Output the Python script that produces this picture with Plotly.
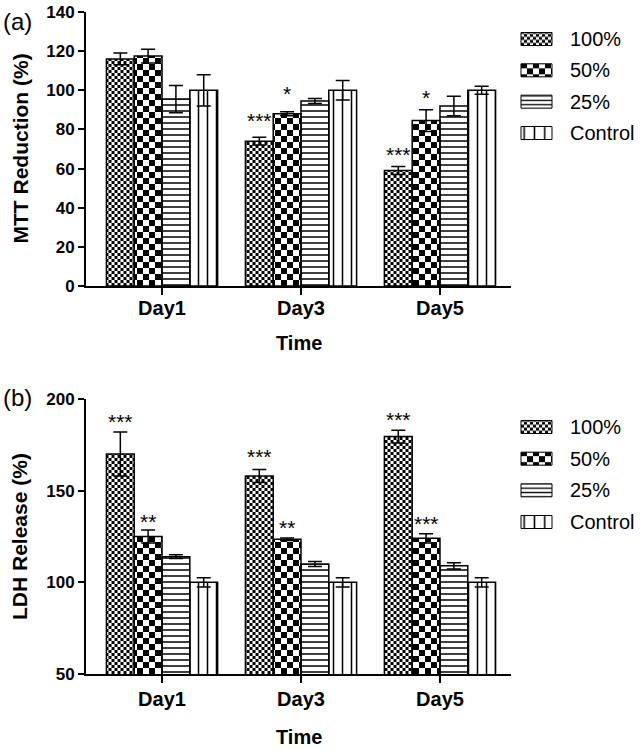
import plotly.graph_objects as go

# ---------------- data ----------------
days = ["Day1", "Day3", "Day5"]
series = ["100%", "50%", "25%", "Control"]

# (a) MTT reduction (%)
mtt_100 = [116, 74, 59]
mtt_100_err = [3, 2, 2]
mtt_50 = [117.5, 88, 84.5]
mtt_50_err = [3.5, 1, 5.5]
mtt_25 = [95.5, 94.5, 92]
mtt_25_err = [7, 1.3, 5]
mtt_ctrl = [100, 100, 100]
mtt_ctrl_err = [8, 5, 2]

mtt_sig_day = ["Day3", "Day3", "Day5", "Day5"]
mtt_sig_series = ["100%", "50%", "100%", "50%"]
mtt_sig_text = ["***", "*", "***", "*"]
mtt_sig_y = [87, 101, 70, 99]

# (b) LDH release (%)
ldh_100 = [170, 158, 179.5]
ldh_100_err = [12, 3.5, 3.5]
ldh_50 = [125, 123.5, 124]
ldh_50_err = [3.5, 0.7, 2.5]
ldh_25 = [114, 110, 109]
ldh_25_err = [1, 1.3, 1.7]
ldh_ctrl = [100, 100, 100]
ldh_ctrl_err = [2.5, 2.5, 2.5]

ldh_sig_day = ["Day1", "Day1", "Day3", "Day3", "Day5", "Day5"]
ldh_sig_series = ["100%", "50%", "100%", "50%", "100%", "50%"]
ldh_sig_text = ["***", "**", "***", "**", "***", "***"]
ldh_sig_y = [190.5, 135.7, 171.4, 132.8, 191.8, 134.6]

mtt_yticks = [0, 20, 40, 60, 80, 100, 120, 140]
ldh_yticks = [50, 100, 150, 200]

# ---------------- layout constants (pixels) ----------------
W, H = 641, 750
FONT = "Liberation Sans, Arial, Helvetica, sans-serif"
PL, PR = 86, 511
A_T, A_B = 12, 286
B_T, B_B = 399, 674
X_RANGE = [-0.547, 2.511]
A_RANGE = [0, 140]
B_RANGE = [50, 200]
BAR_W = 0.2
OFFSETS = [-0.4, -0.2, 0.0, 0.2]

# legend swatch geometry
SW_L, SW_R = 521, 552
A_LEG_ROWS = (39, 133)
B_LEG_ROWS = (427, 522)
SW_H = 13

STYLES = [
    dict(kind="checker", tile=6),
    dict(kind="checker", tile=12),
    dict(kind="lines", shape="-", size=6, solidity=0.25, lsize=4.4, lsol=0.3),
    dict(kind="lines", shape="|", size=9, solidity=0.17, lsize=10.3, lsol=0.15),
]


def py(p):
    return 1 - p / H


def px(p):
    return p / W


fig = go.Figure()


def pat(shape, size, sol, fg, bg):
    return dict(shape=shape, size=size, solidity=sol, fgcolor=fg, bgcolor=bg,
                fillmode="replace")


def add_panel(xa, ya, vals_list, errs_list, floor, ppu):
    fills, outlines = [], []
    for j, (name, vals, errs, st) in enumerate(zip(series, vals_list, errs_list, STYLES)):
        off = OFFSETS[j]
        common = dict(offset=off, width=BAR_W, xaxis=xa, yaxis=ya,
                      showlegend=False, hoverinfo="skip")
        if st["kind"] == "checker":
            tile = st["tile"]
            fills.append(go.Bar(x=days, y=vals, name=name,
                                marker=dict(color="white", line=dict(width=0),
                                            pattern=pat("|", tile, 0.5, "black", "white")),
                                **common))
            seg = (tile / 2) / ppu
            sx, sb, sy = [], [], []
            for d, v in zip(days, vals):
                b = floor + seg
                while b < v - 1e-9:
                    sx.append(d)
                    sb.append(b)
                    sy.append(min(seg, v - b))
                    b += 2 * seg
            fills.append(go.Bar(x=sx, y=sy, base=sb, name=name,
                                marker=dict(color="black", line=dict(width=0),
                                            pattern=pat("|", tile, 0.5, "white", "black")),
                                **common))
        else:
            fills.append(go.Bar(x=days, y=vals, name=name,
                                marker=dict(color="white", line=dict(width=0),
                                            pattern=pat(st["shape"], st["size"], st["solidity"],
                                                        "black", "white")),
                                **common))
        outlines.append(go.Bar(x=days, y=vals, name=name,
                               marker=dict(color="rgba(0,0,0,0)",
                                           line=dict(color="black", width=1.5)),
                               error_y=dict(type="data", array=errs, visible=True,
                                            color="black", thickness=1.5, width=7),
                               **common))
    for t in fills + outlines:
        fig.add_trace(t)


def add_legend(xa, ya, sw_h_units):
    sw_px = SW_R - SW_L
    fills = []
    for k, (name, st) in enumerate(zip(series, STYLES)):
        common = dict(orientation="h", width=sw_h_units, xaxis=xa, yaxis=ya,
                      showlegend=False, hoverinfo="skip")
        if st["kind"] == "checker":
            tile = st["tile"]
            fills.append(go.Bar(y=[name], x=[1], base=[0],
                                marker=dict(color="white", line=dict(width=0),
                                            pattern=pat("-", tile, 0.5, "black", "white")),
                                **common))
            seg = (tile / 2) / sw_px
            sx, sb, sy = [], [], []
            b = seg
            while b < 1 - 1e-9:
                sy.append(name)
                sb.append(b)
                sx.append(min(seg, 1 - b))
                b += 2 * seg
            fills.append(go.Bar(y=sy, x=sx, base=sb,
                                marker=dict(color="black", line=dict(width=0),
                                            pattern=pat("-", tile, 0.5, "white", "black")),
                                **common))
        else:
            fills.append(go.Bar(y=[name], x=[1], base=[0],
                                marker=dict(color="white", line=dict(width=0),
                                            pattern=pat(st["shape"], st["lsize"], st["lsol"],
                                                        "black", "white")),
                                **common))
    outline = go.Bar(y=series, x=[1] * len(series), base=[0] * len(series),
                     orientation="h", width=sw_h_units, xaxis=xa, yaxis=ya,
                     showlegend=False, hoverinfo="skip",
                     marker=dict(color="rgba(0,0,0,0)",
                                 line=dict(color="black", width=1)))
    for t in fills + [outline]:
        fig.add_trace(t)


ppu_a = (A_B - A_T) / (A_RANGE[1] - A_RANGE[0])
ppu_b = (B_B - B_T) / (B_RANGE[1] - B_RANGE[0])

add_panel("x", "y", [mtt_100, mtt_50, mtt_25, mtt_ctrl],
          [mtt_100_err, mtt_50_err, mtt_25_err, mtt_ctrl_err], A_RANGE[0], ppu_a)
add_panel("x2", "y2", [ldh_100, ldh_50, ldh_25, ldh_ctrl],
          [ldh_100_err, ldh_50_err, ldh_25_err, ldh_ctrl_err], B_RANGE[0], ppu_b)

A_ROW_SP = (A_LEG_ROWS[1] - A_LEG_ROWS[0]) / 3
B_ROW_SP = (B_LEG_ROWS[1] - B_LEG_ROWS[0]) / 3
add_legend("x3", "y3", SW_H / A_ROW_SP)
add_legend("x4", "y4", SW_H / B_ROW_SP)

# ---------------- axes ----------------
xcommon = dict(type="category", categoryorder="array", categoryarray=days,
               range=X_RANGE, showline=True, linewidth=2, linecolor="black",
               ticks="outside", ticklen=7, tickwidth=2, tickcolor="black",
               tickfont=dict(size=20, family=FONT, color="black", weight="bold"),
               showgrid=False, zeroline=False, fixedrange=True, automargin=False,
               domain=[px(PL), px(PR)])
ycommon = dict(showline=True, linewidth=2, linecolor="black",
               ticks="outside", ticklen=6, tickwidth=2, tickcolor="black",
               tickfont=dict(size=17, family=FONT, color="black", weight="bold"),
               showgrid=False, zeroline=False, fixedrange=True, automargin=False)

sw_ppx = SW_R - SW_L
legx = dict(range=[-2 / sw_ppx, 1 + 2 / sw_ppx], visible=False, fixedrange=True,
            automargin=False, domain=[px(SW_L - 2), px(SW_R + 2)])


def legy(rows):
    sp = (rows[1] - rows[0]) / 3
    top = rows[0] - sp / 2
    bot = rows[1] + sp / 2
    return dict(type="category", categoryorder="array", categoryarray=series,
                range=[3.5, -0.5], visible=False, fixedrange=True, automargin=False,
                domain=[py(bot), py(top)])


fig.update_layout(
    width=W, height=H, autosize=False,
    margin=dict(l=0, r=0, t=0, b=0, pad=0, autoexpand=False),
    paper_bgcolor="white", plot_bgcolor="white", barmode="overlay",
    showlegend=False, font=dict(family=FONT, color="black"),
    xaxis=dict(anchor="y", ticklabelstandoff=-4, **xcommon),
    yaxis=dict(anchor="x", range=A_RANGE, tickvals=mtt_yticks,
               domain=[py(A_B), py(A_T)], **ycommon),
    xaxis2=dict(anchor="y2", ticklabelstandoff=-1, **xcommon),
    yaxis2=dict(anchor="x2", range=B_RANGE, tickvals=ldh_yticks,
                domain=[py(B_B), py(B_T)], **ycommon),
    xaxis3=dict(anchor="y3", **legx),
    yaxis3=dict(anchor="x3", **legy(A_LEG_ROWS)),
    xaxis4=dict(anchor="y4", **legx),
    yaxis4=dict(anchor="x4", **legy(B_LEG_ROWS)),
)

# ---------------- text ----------------
ann = []
for d, s, t, yv in zip(mtt_sig_day, mtt_sig_series, mtt_sig_text, mtt_sig_y):
    j = series.index(s)
    ann.append(dict(x=days.index(d) + OFFSETS[j] + BAR_W / 2, y=yv, xref="x", yref="y",
                    text=t, showarrow=False, yshift=-5, xanchor="center", yanchor="middle",
                    font=dict(size=21, family=FONT, color="black")))
for d, s, t, yv in zip(ldh_sig_day, ldh_sig_series, ldh_sig_text, ldh_sig_y):
    j = series.index(s)
    ann.append(dict(x=days.index(d) + OFFSETS[j] + BAR_W / 2, y=yv, xref="x2", yref="y2",
                    text=t, showarrow=False, yshift=-5, xanchor="center", yanchor="middle",
                    font=dict(size=21, family=FONT, color="black")))

for xa, ya in [("x3", "y3"), ("x4", "y4")]:
    for s in series:
        ann.append(dict(x=1, y=s, xref=xa, yref=ya, text=s, showarrow=False,
                        xanchor="left", yanchor="middle", xshift=16,
                        font=dict(size=20, family=FONT, color="black")))

bold_title = dict(size=21, family=FONT, color="black", weight="bold")
ann.append(dict(x=px(19.5), y=py((A_T + A_B) / 2), xref="paper", yref="paper",
                xanchor="center", yanchor="middle",
                text="MTT Reduction (%)", textangle=-90, showarrow=False, font=bold_title))
ann.append(dict(x=px(19.5), y=py((B_T + B_B) / 2), xref="paper", yref="paper",
                xanchor="center", yanchor="middle",
                text="LDH Release (%)", textangle=-90, showarrow=False, font=bold_title))
time_font = dict(size=20, family=FONT, color="black", weight="bold")
ann.append(dict(x=px((PL + PR) / 2), y=py(343), xref="paper", yref="paper",
                xanchor="center", yanchor="middle",
                text="Time", showarrow=False, font=time_font))
ann.append(dict(x=px((PL + PR) / 2), y=py(737), xref="paper", yref="paper",
                xanchor="center", yanchor="middle",
                text="Time", showarrow=False, font=time_font))
panel_font = dict(size=24, family=FONT, color="black")
ann.append(dict(x=px(1), y=py(21), xref="paper", yref="paper",
                xanchor="left", yanchor="middle",
                text="(a)", showarrow=False, font=panel_font))
ann.append(dict(x=px(1), y=py(397), xref="paper", yref="paper",
                xanchor="left", yanchor="middle",
                text="(b)", showarrow=False, font=panel_font))

fig.update_layout(annotations=ann)
fig.write_html("out.html", config={"displayModeBar": False},
               post_script="document.body.style.margin='0px';")
